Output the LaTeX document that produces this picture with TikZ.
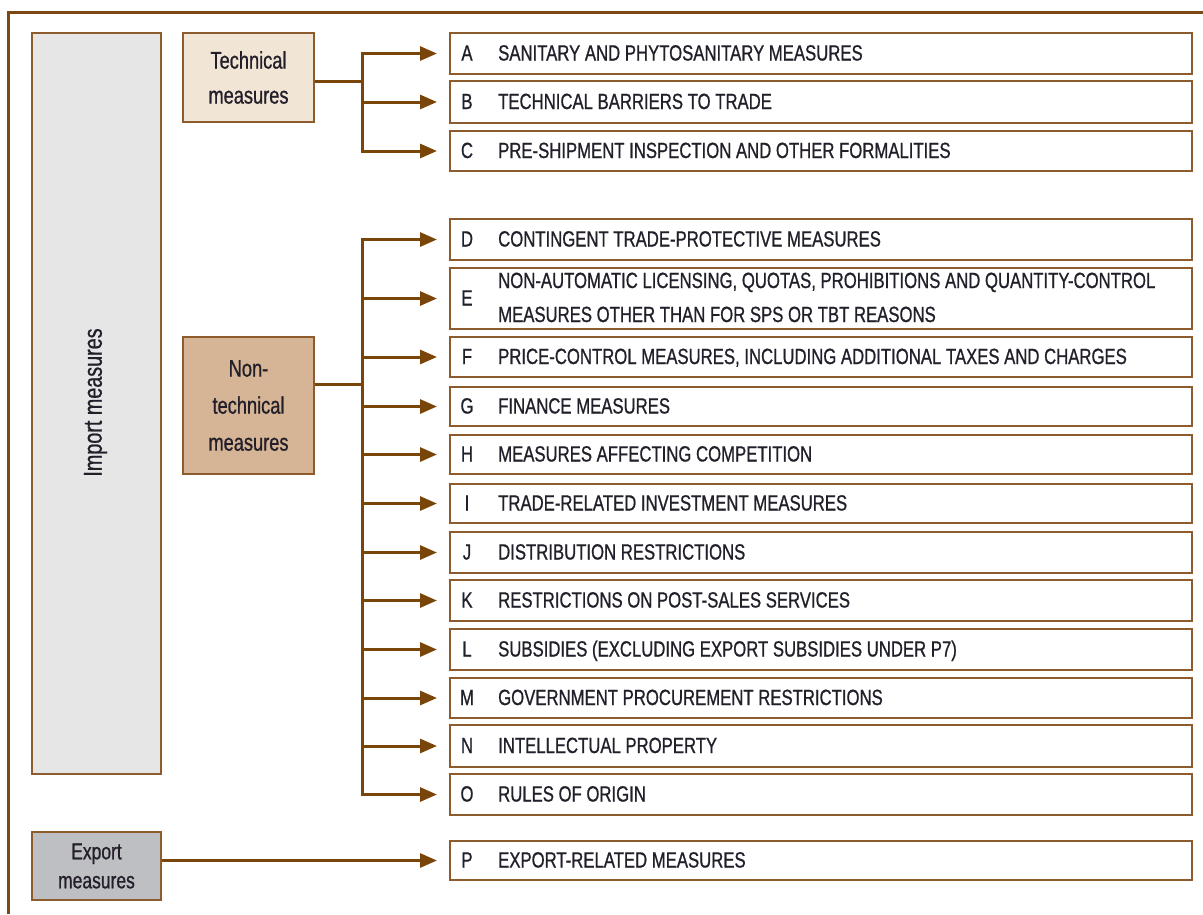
\documentclass[tikz,border=0pt]{standalone}
\usepackage{fontspec}
\setmainfont{Liberation Sans}[FakeStretch=0.76,FakeBold=0.8]
\usetikzlibrary{arrows.meta}
\definecolor{framebrown}{HTML}{7B4A12}
\definecolor{boxbrown}{HTML}{8E5C2C}
\definecolor{arrowbrown}{HTML}{7A4508}
\definecolor{techfill}{HTML}{F1E5D5}
\definecolor{nontechfill}{HTML}{D5B595}
\definecolor{importfill}{HTML}{E6E6E6}
\definecolor{exportfill}{HTML}{BEBFC3}
\definecolor{inktext}{HTML}{231F2A}
\tikzset{
  rbox/.style={draw=boxbrown, line width=2pt, fill=white, minimum width=742pt, inner sep=0pt},
  lbox/.style={draw=boxbrown, line width=2pt, inner sep=0pt, align=center, text=inktext},
  lett/.style={anchor=base, inner sep=0pt, text=inktext, font=\fontsize{22}{26}\selectfont},
  itxt/.style={anchor=base west, inner sep=0pt, text=inktext, font=\fontsize{22}{26}\selectfont},
  conn/.style={draw=arrowbrown, line width=3pt},
  arr/.style={conn, -{Triangle[length=17pt,width=14pt]}, shorten >=12pt},
  outerframe/.style={draw=framebrown, line width=3pt}
}
\newcommand\mrow[5]{%
  \pgfmathsetmacro\rowh{#3-#2}%
  \pgfmathsetmacro\rowb{(#2+#3)/2+8}%
  \node[rbox, minimum height=\rowh pt, anchor=north west] (#1) at (449,#2) {};
  \node[lett] (#1l) at (467,\rowb) {#4};
  \node[itxt] (#1t) at (498,\rowb) {#5};
}
\begin{document}
\begin{tikzpicture}[x=1pt,y=-1pt]
\useasboundingbox (0,0) rectangle (1203,914);
\draw[outerframe] (8,914) -- (8,12) -- (1203,12);

% left boxes
\node[lbox, fill=importfill, minimum width=129pt, minimum height=741pt, anchor=north west] (imp) at (31,32) {};
\node[rotate=90, inner sep=0pt, text=inktext, font=\fontsize{26}{30}\selectfont] (impt) at (95.5,402.5) {Import measures};
\node[lbox, fill=techfill, minimum width=131pt, minimum height=89pt, anchor=north west, font=\fontsize{24}{35}\selectfont] (tech) at (182,32) {Technical\\measures};
\node[lbox, fill=nontechfill, minimum width=131pt, minimum height=137pt, anchor=north west, font=\fontsize{24}{37}\selectfont] (ntech) at (182,336) {Non-\\technical\\measures};
\node[lbox, fill=exportfill, minimum width=129pt, minimum height=68pt, anchor=north west, font=\fontsize{23}{29}\selectfont] (exp) at (31,831) {Export\\measures};

% right boxes
\mrow{A}{32}{73}{A}{SANITARY AND PHYTOSANITARY MEASURES}
\mrow{B}{80}{122}{B}{TECHNICAL BARRIERS TO TRADE}
\mrow{C}{130}{170}{C}{PRE-SHIPMENT INSPECTION AND OTHER FORMALITIES}
\mrow{D}{218}{259}{D}{CONTINGENT TRADE-PROTECTIVE MEASURES}
\mrow{E}{267}{328}{E}{}
\node[itxt] (Et1) at (498,288) {NON-AUTOMATIC LICENSING, QUOTAS, PROHIBITIONS AND QUANTITY-CONTROL};
\node[itxt] (Et2) at (498,322) {MEASURES OTHER THAN FOR SPS OR TBT REASONS};
\mrow{F}{336}{376}{F}{PRICE-CONTROL MEASURES, INCLUDING ADDITIONAL TAXES AND CHARGES}
\mrow{G}{386}{425}{G}{FINANCE MEASURES}
\mrow{H}{434}{473}{H}{MEASURES AFFECTING COMPETITION}
\mrow{I}{483}{522}{I}{TRADE-RELATED INVESTMENT MEASURES}
\mrow{J}{531}{572}{J}{DISTRIBUTION RESTRICTIONS}
\mrow{K}{579}{620}{K}{RESTRICTIONS ON POST-SALES SERVICES}
\mrow{L}{628}{669}{L}{SUBSIDIES (EXCLUDING EXPORT SUBSIDIES UNDER P7)}
\mrow{M}{677}{717}{M}{GOVERNMENT PROCUREMENT RESTRICTIONS}
\mrow{N}{724}{766}{N}{INTELLECTUAL PROPERTY}
\mrow{O}{773}{814}{O}{RULES OF ORIGIN}
\mrow{P}{840}{879}{P}{EXPORT-RELATED MEASURES}

% connectors
\coordinate (tj) at (362,81);
\draw[conn] (tech.east |- tj) -- (tj);
\foreach \t in {A,B,C} \draw[arr] (tj) |- (\t.west);
\coordinate (nj) at (362,384);
\draw[conn] (ntech.east |- nj) -- (nj);
\foreach \t in {D,E,F,G,H,I,J,K,L,M,N,O} \draw[arr] (nj) |- (\t.west);
\draw[arr] (exp.east |- P.west) -- (P.west);
\end{tikzpicture}
\end{document}
